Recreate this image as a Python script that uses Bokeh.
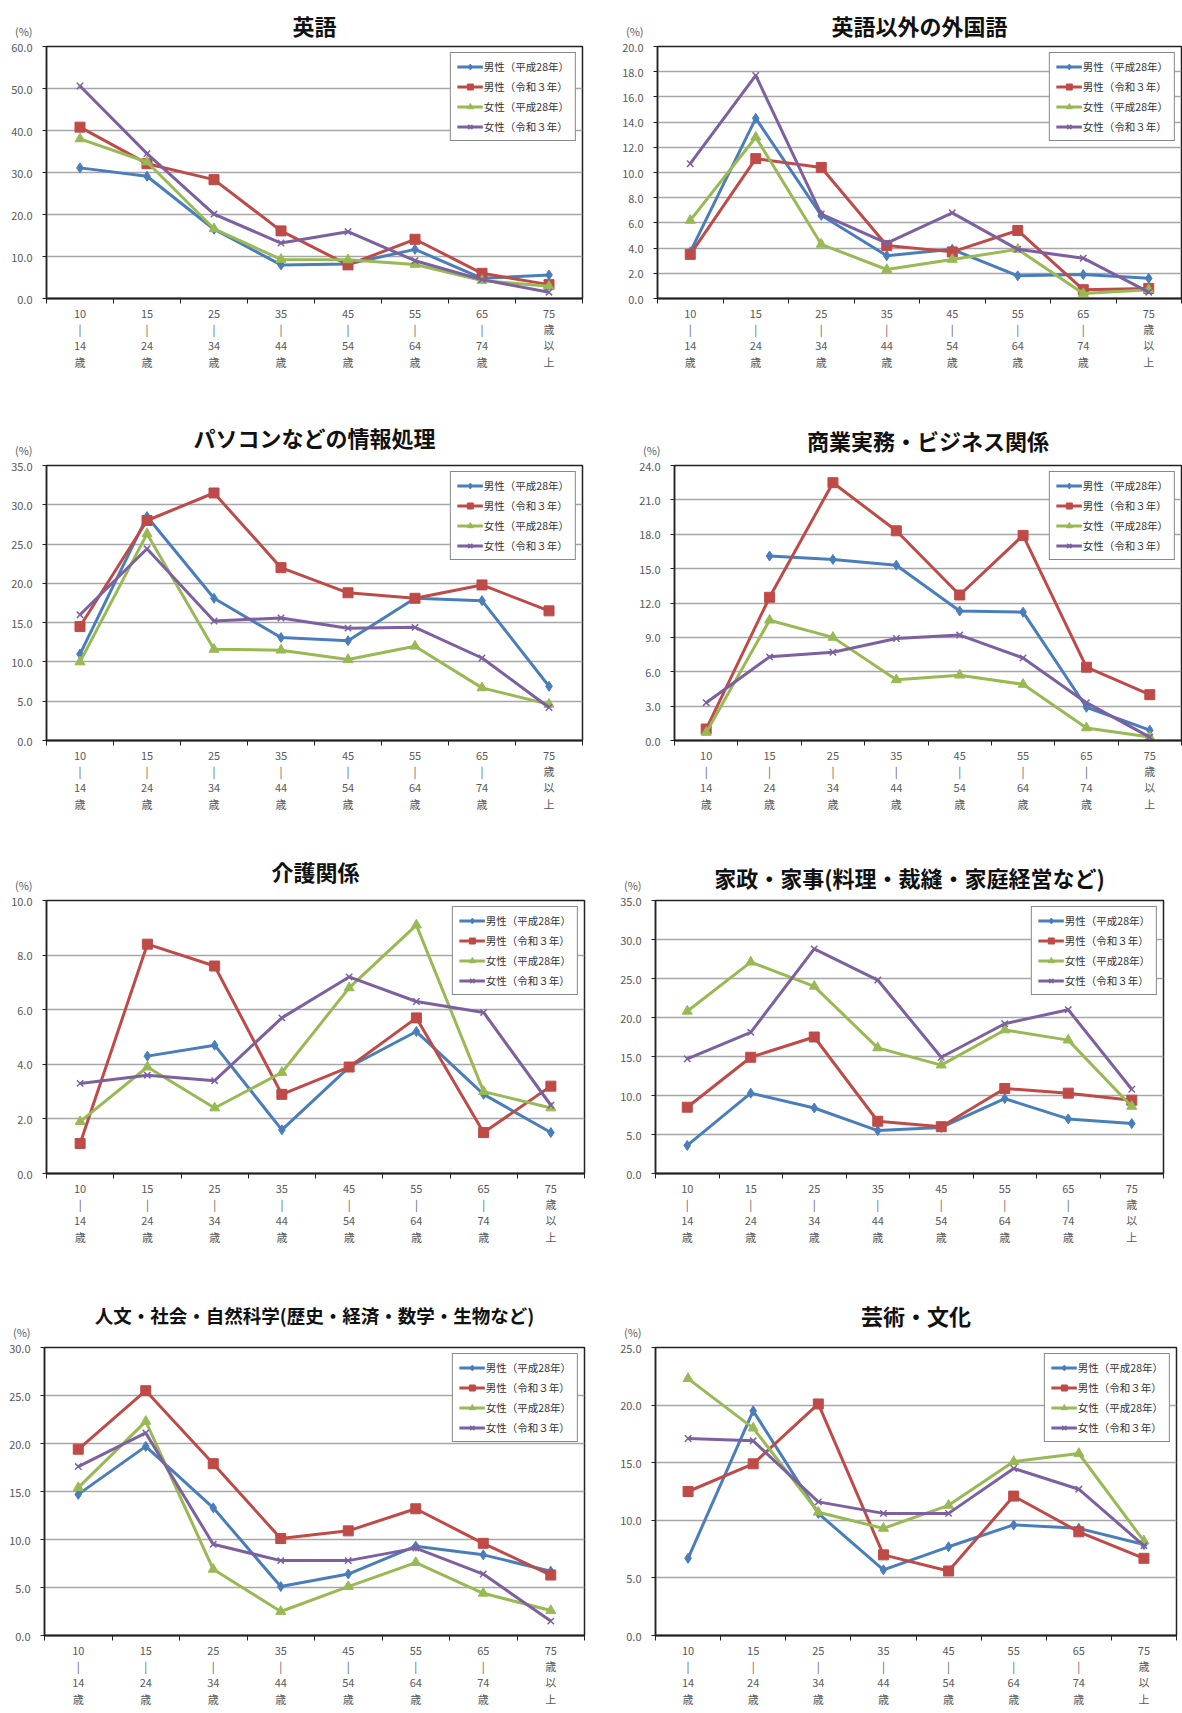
from bokeh.plotting import figure
from bokeh.layouts import column, row
from bokeh.models import FixedTicker, Range1d, Legend, LegendItem, PrintfTickFormatter
from bokeh.embed import file_html
from bokeh.resources import INLINE

nan = float("nan")

age_labels = ["10\n|\n14\n歳", "15\n|\n24\n歳", "25\n|\n34\n歳", "35\n|\n44\n歳",
              "45\n|\n54\n歳", "55\n|\n64\n歳", "65\n|\n74\n歳", "75\n歳\n以\n上"]
series_names = ["男性（平成28年）", "男性（令和３年）", "女性（平成28年）", "女性（令和３年）"]
unit_label = "\u00a0\u00a0(%)"

# 英語
en_m28 = [31.1, 29.1, 16.5, 8.0, 8.2, 11.7, 4.8, 5.6]
en_m3 = [40.8, 32.1, 28.3, 16.1, 8.0, 14.1, 6.0, 3.3]
en_f28 = [38.0, 32.5, 16.6, 9.3, 9.2, 8.1, 4.3, 2.9]
en_f3 = [50.6, 34.5, 20.1, 13.2, 15.9, 9.0, 4.5, 1.5]
# 英語以外の外国語
fl_m28 = [3.7, 14.3, 6.6, 3.4, 3.9, 1.8, 1.9, 1.6]
fl_m3 = [3.5, 11.1, 10.4, 4.2, 3.7, 5.4, 0.7, 0.8]
fl_f28 = [6.2, 12.8, 4.3, 2.3, 3.1, 3.9, 0.4, 0.7]
fl_f3 = [10.7, 17.7, 6.7, 4.4, 6.8, 3.9, 3.2, 0.5]
# パソコンなどの情報処理
pc_m28 = [11.0, 28.5, 18.1, 13.1, 12.7, 18.1, 17.8, 6.9]
pc_m3 = [14.5, 28.0, 31.5, 22.0, 18.8, 18.1, 19.8, 16.5]
pc_f28 = [10.0, 26.3, 11.6, 11.5, 10.3, 12.0, 6.7, 4.6]
pc_f3 = [16.0, 24.4, 15.2, 15.6, 14.3, 14.4, 10.5, 4.2]
# 商業実務・ビジネス関係
bz_m28 = [nan, 16.1, 15.8, 15.3, 11.3, 11.2, 2.9, 0.9]
bz_m3 = [1.0, 12.5, 22.5, 18.3, 12.7, 17.9, 6.4, 4.0]
bz_f28 = [0.7, 10.5, 9.0, 5.3, 5.7, 4.9, 1.1, 0.3]
bz_f3 = [3.3, 7.3, 7.7, 8.9, 9.2, 7.2, 3.3, 0.3]
# 介護関係
cr_m28 = [nan, 4.3, 4.7, 1.6, 3.9, 5.2, 2.9, 1.5]
cr_m3 = [1.1, 8.4, 7.6, 2.9, 3.9, 5.7, 1.5, 3.2]
cr_f28 = [1.9, 3.9, 2.4, 3.7, 6.8, 9.1, 3.0, 2.4]
cr_f3 = [3.3, 3.6, 3.4, 5.7, 7.2, 6.3, 5.9, 2.5]
# 家政・家事
hm_m28 = [3.6, 10.3, 8.4, 5.5, 5.9, 9.6, 7.0, 6.4]
hm_m3 = [8.5, 14.9, 17.5, 6.7, 6.0, 10.9, 10.3, 9.4]
hm_f28 = [20.8, 27.1, 24.0, 16.1, 13.9, 18.4, 17.1, 8.6]
hm_f3 = [14.7, 18.1, 28.8, 24.8, 14.9, 19.2, 21.0, 10.8]
# 人文・社会・自然科学
sc_m28 = [14.7, 19.7, 13.3, 5.1, 6.4, 9.3, 8.4, 6.7]
sc_m3 = [19.4, 25.5, 17.9, 10.1, 10.9, 13.2, 9.6, 6.3]
sc_f28 = [15.4, 22.3, 6.9, 2.5, 5.1, 7.6, 4.4, 2.6]
sc_f3 = [17.6, 21.1, 9.5, 7.8, 7.8, 9.1, 6.4, 1.5]
# 芸術・文化
ar_m28 = [6.7, 19.5, 10.6, 5.7, 7.7, 9.6, 9.3, 7.9]
ar_m3 = [12.5, 14.9, 20.1, 7.0, 5.6, 12.1, 9.0, 6.7]
ar_f28 = [22.3, 18.0, 10.7, 9.3, 11.3, 15.1, 15.8, 8.2]
ar_f3 = [17.1, 16.9, 11.6, 10.6, 10.6, 14.5, 12.7, 7.8]

colors = ["#4a7ebb", "#be4b48", "#98b954", "#7d60a0"]
markers = ["diamond", "square", "triangle", "x"]
msizes = [10, 10, 10, 9]

FONT = "Noto Sans CJK JP"
TICK_COLOR = "#595959"


def make_chart(title, tsize, ymax, ystep, data, w, h, bl, bt, br, bb, tstand):
    x = list(range(len(age_labels)))
    p = figure(width=w, height=h, x_range=Range1d(-0.5, 7.5), y_range=Range1d(0, ymax),
               output_backend="svg", toolbar_location=None,
               min_border_left=bl, min_border_top=bt, min_border_right=br, min_border_bottom=bb)
    p.title.text = title
    p.title.align = "center"
    p.title.text_font = FONT
    p.title.text_font_size = tsize
    p.title.text_font_style = "bold"
    p.title.text_color = "#111111"
    p.title.standoff = tstand

    p.outline_line_color = "#222222"
    p.outline_line_width = 1.5
    p.background_fill_color = "white"
    p.border_fill_color = "white"

    yt = []
    v = 0.0
    while v <= ymax + 1e-9:
        yt.append(round(v, 3))
        v += ystep
    p.yaxis.ticker = FixedTicker(ticks=yt)
    p.yaxis.formatter = PrintfTickFormatter(format="%.1f")
    p.yaxis.major_label_overrides = {yt[-1]: unit_label + "\n" + ("%.1f" % yt[-1]) + "\n "}
    p.yaxis.major_label_text_font = FONT
    p.yaxis.major_label_text_font_size = "11px"
    p.yaxis.major_label_text_line_height = 1.0
    p.yaxis.major_label_text_color = TICK_COLOR
    p.yaxis.axis_line_color = "#222222"
    p.yaxis.axis_line_width = 1.5
    p.yaxis.major_tick_out = 4
    p.yaxis.major_tick_in = 0
    p.yaxis.major_tick_line_color = "#222222"
    p.yaxis.minor_tick_line_color = None
    p.yaxis.major_label_standoff = 10

    p.xaxis.ticker = FixedTicker(ticks=x, minor_ticks=[i - 0.5 for i in range(len(x) + 1)])
    p.xaxis.major_label_overrides = {i: lab for i, lab in enumerate(age_labels)}
    p.xaxis.major_label_text_font = FONT
    p.xaxis.major_label_text_font_size = "11px"
    p.xaxis.major_label_text_color = TICK_COLOR
    p.xaxis.major_label_text_line_height = 1.03
    p.xaxis.major_tick_line_color = None
    p.xaxis.minor_tick_line_color = "#222222"
    p.xaxis.minor_tick_out = 5
    p.xaxis.minor_tick_in = 0
    p.xaxis.axis_line_color = "#222222"
    p.xaxis.axis_line_width = 2
    p.xaxis.major_label_standoff = 0

    p.xgrid.visible = False
    p.ygrid.grid_line_color = "#a6a6a6"
    p.ygrid.grid_line_width = 1.5

    items = []
    for i, ys in enumerate(data):
        lr = p.line(x, ys, line_color=colors[i], line_width=3)
        if markers[i] == "x":
            sr = p.scatter(x, ys, marker="x", size=msizes[i], line_color=colors[i], line_width=1.5)
        else:
            sr = p.scatter(x, ys, marker=markers[i], size=msizes[i], fill_color=colors[i],
                           line_color=colors[i])
        items.append(LegendItem(label=series_names[i], renderers=[lr, sr]))

    legend = Legend(items=items, location="top_right")
    legend.label_text_font = FONT
    legend.label_text_font_size = "10.5px"
    legend.label_text_color = "#333333"
    legend.border_line_color = "#111111"
    legend.border_line_width = 1.5
    legend.background_fill_alpha = 1.0
    legend.glyph_width = 26
    legend.glyph_height = 15
    legend.label_height = 15
    legend.spacing = 5
    legend.padding = 6
    legend.margin = 6
    legend.label_standoff = 1
    p.add_layout(legend)
    return p


W1 = 591
W2 = 591
H1, H2, H3, H4 = 395, 430, 435, 452
c1 = make_chart("英語", "22px", 60, 10, [en_m28, en_m3, en_f28, en_f3], W1, H1, 46, 46, 9, 97, 11)
c2 = make_chart("英語以外の外国語", "22px", 20, 2, [fl_m28, fl_m3, fl_f28, fl_f3], W2, H1, 66, 46, 1, 97, 11)
c3 = make_chart("パソコンなどの情報処理", "22px", 35, 5, [pc_m28, pc_m3, pc_f28, pc_f3], W1, H2, 46, 70, 9, 85, 25)
c4 = make_chart("商業実務・ビジネス関係", "22px", 24, 3, [bz_m28, bz_m3, bz_f28, bz_f3], W2, H2, 83, 70, 1, 85, 20)
c5 = make_chart("介護関係", "22px", 10, 2, [cr_m28, cr_m3, cr_f28, cr_f3], W1, H3, 46, 75, 7, 87, 27)
c6 = make_chart("家政・家事(料理・裁縫・家庭経営など)", "22px", 35, 5, [hm_m28, hm_m3, hm_f28, hm_f3], W2, H3, 64, 75, 19, 87, 15)
c7 = make_chart("人文・社会・自然科学(歴史・経済・数学・生物など)", "18.5px", 30, 5, [sc_m28, sc_m3, sc_f28, sc_f3], W1, H4, 44, 87, 7, 77, 39)
c8 = make_chart("芸術・文化", "22px", 25, 5, [ar_m28, ar_m3, ar_f28, ar_f3], W2, H4, 64, 87, 6, 77, 33)

layout = column(row(c1, c2), row(c3, c4), row(c5, c6), row(c7, c8), spacing=0)
for r in layout.children:
    r.spacing = 0

open("out.html", "w").write(file_html(layout, INLINE))
